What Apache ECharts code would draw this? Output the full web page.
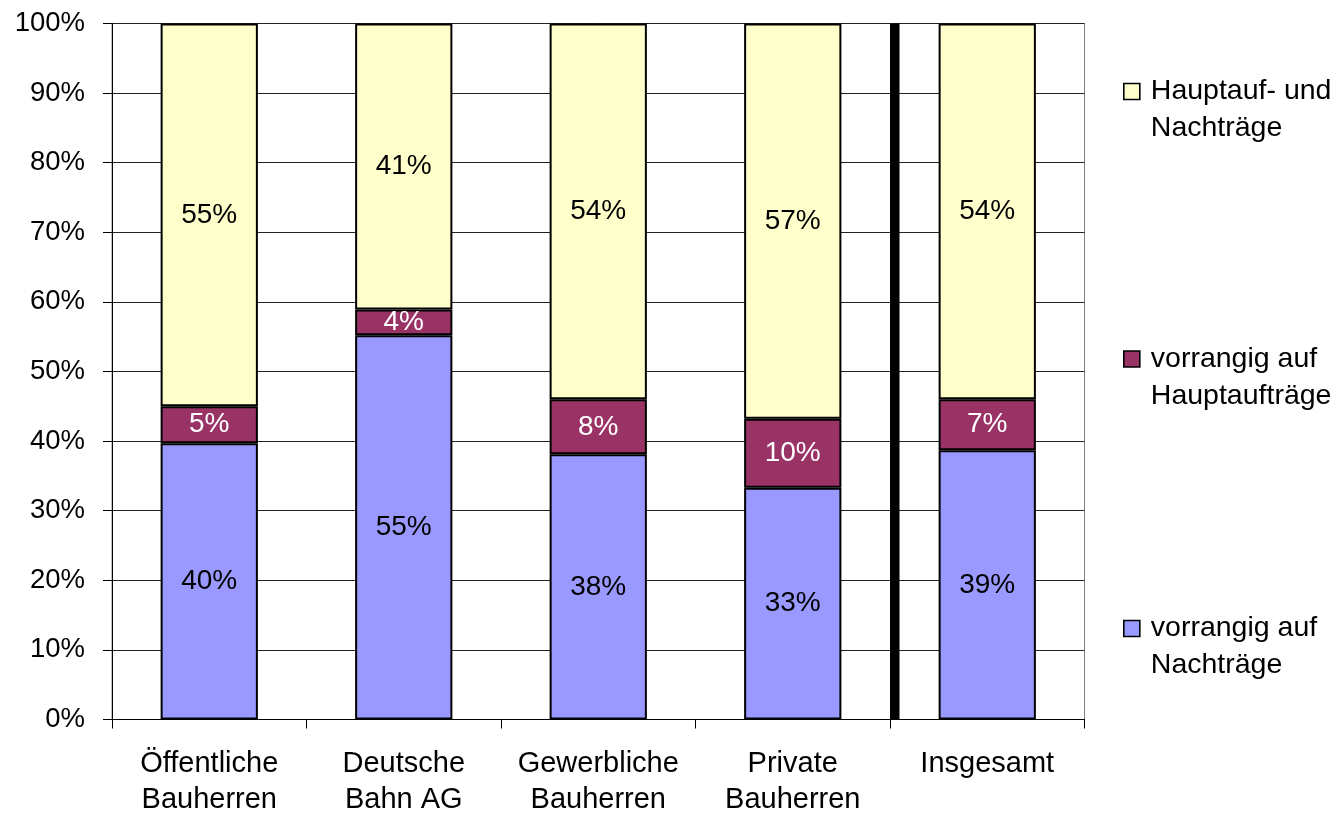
<!DOCTYPE html>
<html>
<head>
<meta charset="utf-8">
<script src="https://cdn.jsdelivr.net/npm/echarts@6/dist/echarts.min.js"></script>
<style>
html,body{margin:0;padding:0;background:#fff;}
#chart{width:1340px;height:814px;}
</style>
</head>
<body>
<div id="chart"></div>
<script>
const categories = ['Öffentliche\nBauherren', 'Deutsche\nBahn AG', 'Gewerbliche\nBauherren', 'Private\nBauherren', 'Insgesamt'];
const seriesNames = ['vorrangig auf Nachträge', 'vorrangig auf Hauptaufträge', 'Hauptauf- und Nachträge'];
const legendLabels = ['vorrangig auf\nNachträge', 'vorrangig auf\nHauptaufträge', 'Hauptauf- und\nNachträge'];
const nachtraege = [39.7, 55.2, 38.1, 33.3, 38.7];
const hauptauftraege = [5.3, 3.7, 7.9, 9.9, 7.3];
const beide = [55.0, 41.1, 54.0, 56.8, 54.0];
const yTicks = [0, 10, 20, 30, 40, 50, 60, 70, 80, 90, 100];

const FONT = "'Liberation Sans', Arial, sans-serif";
const colors = ['#9999FF', '#993366', '#FFFFCC'];
const labelColors = ['#000', '#fff', '#000'];
const values = [nachtraege, hauptauftraege, beide];

const chart = echarts.init(document.getElementById('chart'), null, {renderer: 'canvas'});

const series = values.map((v, i) => ({
  name: seriesNames[i],
  type: 'bar',
  stack: 'total',
  barWidth: '50%',
  data: v,
  itemStyle: {color: colors[i], borderColor: '#000', borderWidth: 2},
  label: {
    show: true,
    position: 'inside',
    formatter: p => Math.round(p.value) + '%',
    color: labelColors[i],
    fontFamily: FONT,
    fontSize: 28
  },
  emphasis: {disabled: true}
}));

const legendTops = [36, 303.5, 573];
const legendOrder = [2, 1, 0];
const legends = legendOrder.map((si, k) => ({
  data: [seriesNames[si]],
  orient: 'vertical',
  left: 1123,
  top: legendTops[k],
  padding: 0,
  itemWidth: 16,
  itemHeight: 16,
  itemGap: 0,
  icon: 'rect',
  selectedMode: false,
  itemStyle: {borderColor: '#000', borderWidth: 1.6},
  // a blank first line keeps the first text line level with the icon
  formatter: name => ' \n' + legendLabels[seriesNames.indexOf(name)],
  textStyle: {
    fontFamily: FONT,
    fontSize: 28.5,
    lineHeight: 37,
    color: '#000',
    padding: [0, 0, 0, 6]
  }
}));

chart.setOption({
  animation: false,
  backgroundColor: '#fff',
  grid: {left: 112, top: 23.5, width: 972.5, height: 696, show: true, borderColor: '#808080', borderWidth: 1, backgroundColor: 'transparent', outerBoundsMode: 'none', containLabel: false},
  legend: legends,
  xAxis: {
    type: 'category',
    data: categories,
    axisLine: {lineStyle: {color: '#000', width: 1}},
    axisTick: {show: true, length: 9, lineStyle: {color: '#000'}, alignWithLabel: false},
    axisLabel: {fontFamily: FONT, fontSize: 29, lineHeight: 36, color: '#000', margin: 26, interval: 0}
  },
  yAxis: {
    type: 'value',
    min: yTicks[0],
    max: yTicks[yTicks.length - 1],
    interval: 10,
    axisLine: {show: true, lineStyle: {color: '#000', width: 1}},
    axisTick: {show: true, length: 9, lineStyle: {color: '#000'}},
    axisLabel: {formatter: '{value}%', fontFamily: FONT, fontSize: 27.5, color: '#000', margin: 27},
    splitLine: {show: true, lineStyle: {color: '#222', width: 1}}
  },
  series: series
});

// Black separator between the single groups and "Insgesamt"
function drawSeparator() {
  const x3 = chart.convertToPixel({xAxisIndex: 0}, 3);
  const x4 = chart.convertToPixel({xAxisIndex: 0}, 4);
  const yTop = chart.convertToPixel({yAxisIndex: 0}, yTicks[yTicks.length - 1]);
  const yBot = chart.convertToPixel({yAxisIndex: 0}, yTicks[0]);
  const xb = (x3 + x4) / 2;
  chart.setOption({
    graphic: [{
      type: 'rect',
      shape: {x: xb, y: yTop, width: 9.5, height: yBot - yTop},
      style: {fill: '#000'},
      z: 5
    }]
  });
}
drawSeparator();
</script>
</body>
</html>
